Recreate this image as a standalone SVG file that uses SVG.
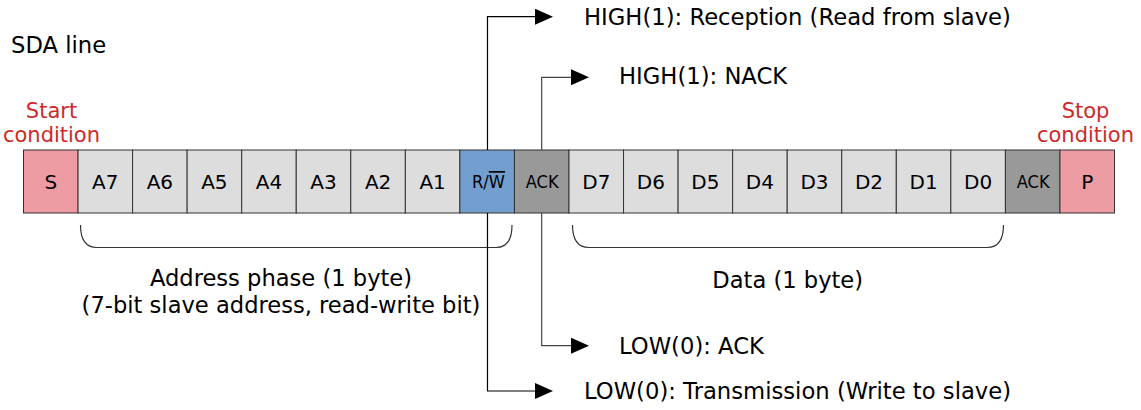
<svg xmlns="http://www.w3.org/2000/svg" width="1141" height="410" viewBox="0 0 1141 410">
<defs>
<style>
text{font-family:"DejaVu Sans","Noto Sans",sans-serif;fill:#000}
.lbl{font-size:22.7px}
.c{font-size:20px;text-anchor:middle}
.big{font-size:22.6px;text-anchor:middle}
.sm{font-size:17px;text-anchor:middle}
.red{fill:#cc2a2a;font-size:21px;text-anchor:middle}
.cell{stroke:#333;stroke-width:1}
.bit{fill:#dddddd}
.se{fill:#ee9ca3}
.rw{fill:#729fcf}
.ack{fill:#999999}
.con{fill:none;stroke:#000;stroke-width:1.2}
.con2{fill:none;stroke:#444;stroke-width:1.2}
.brace{fill:none;stroke:#333;stroke-width:1.2}
</style>
<marker id="arr" markerUnits="userSpaceOnUse" markerWidth="18" markerHeight="16" refX="0" refY="8" orient="auto">
<path d="M0,0 L18,8 L0,16 z" fill="#000"/>
</marker>
</defs>
<rect width="1141" height="410" fill="#fff"/>
<text class="lbl" x="11" y="52.5">SDA line</text>
<g id="start-label"><text class="red" x="51.5" y="117.5">Start</text><text class="red" x="51.5" y="141.5">condition</text></g>
<g id="stop-label"><text class="red" x="1085.5" y="118">Stop</text><text class="red" x="1085.5" y="142">condition</text></g>

<g id="cells">
<g id="S"><rect class="cell se" x="23.5" y="150" width="54.55" height="63"/><text class="c" x="50.8" y="189">S</text></g>
<g id="A7"><rect class="cell bit" x="78.05" y="150" width="54.55" height="63"/><text class="c" x="105.3" y="189">A7</text></g>
<g id="A6"><rect class="cell bit" x="132.6" y="150" width="54.55" height="63"/><text class="c" x="159.9" y="189">A6</text></g>
<g id="A5"><rect class="cell bit" x="187.15" y="150" width="54.55" height="63"/><text class="c" x="214.4" y="189">A5</text></g>
<g id="A4"><rect class="cell bit" x="241.7" y="150" width="54.55" height="63"/><text class="c" x="269" y="189">A4</text></g>
<g id="A3"><rect class="cell bit" x="296.25" y="150" width="54.55" height="63"/><text class="c" x="323.5" y="189">A3</text></g>
<g id="A2"><rect class="cell bit" x="350.8" y="150" width="54.55" height="63"/><text class="c" x="378.1" y="189">A2</text></g>
<g id="A1"><rect class="cell bit" x="405.35" y="150" width="54.55" height="63"/><text class="c" x="432.6" y="189">A1</text></g>
<g id="RW"><rect class="cell rw" x="459.9" y="150" width="54.55" height="63"/><text class="sm" x="488.5" y="188" textLength="33" lengthAdjust="spacingAndGlyphs">R/<tspan text-decoration="overline">W</tspan></text></g>
<g id="ACK1"><rect class="cell ack" x="514.45" y="150" width="54.55" height="63"/><text class="sm" x="542.2" y="188" textLength="33" lengthAdjust="spacingAndGlyphs">ACK</text></g>
<g id="D7"><rect class="cell bit" x="569" y="150" width="54.55" height="63"/><text class="c" x="596.3" y="189">D7</text></g>
<g id="D6"><rect class="cell bit" x="623.55" y="150" width="54.55" height="63"/><text class="c" x="650.8" y="189">D6</text></g>
<g id="D5"><rect class="cell bit" x="678.1" y="150" width="54.55" height="63"/><text class="c" x="705.4" y="189">D5</text></g>
<g id="D4"><rect class="cell bit" x="732.65" y="150" width="54.55" height="63"/><text class="c" x="759.9" y="189">D4</text></g>
<g id="D3"><rect class="cell bit" x="787.2" y="150" width="54.55" height="63"/><text class="c" x="814.5" y="189">D3</text></g>
<g id="D2"><rect class="cell bit" x="841.75" y="150" width="54.55" height="63"/><text class="c" x="869" y="189">D2</text></g>
<g id="D1"><rect class="cell bit" x="896.3" y="150" width="54.55" height="63"/><text class="c" x="923.6" y="189">D1</text></g>
<g id="D0"><rect class="cell bit" x="950.85" y="150" width="54.55" height="63"/><text class="c" x="978.1" y="189">D0</text></g>
<g id="ACK2"><rect class="cell ack" x="1005.4" y="150" width="54.55" height="63"/><text class="sm" x="1033.2" y="188" textLength="33" lengthAdjust="spacingAndGlyphs">ACK</text></g>
<g id="P"><rect class="cell se" x="1059.95" y="150" width="54.55" height="63"/><text class="c" x="1087.2" y="189">P</text></g>
</g>

<g id="braces">
<path class="brace" d="M80.5,225 C80.5,240 86,247.5 97,247.5 H496 C507,247.5 512,240 512,225"/>
<path class="brace" d="M572.5,225 C572.5,240 578,247.5 589,247.5 H987 C998,247.5 1003.5,240 1003.5,225"/>
<text class="big" x="281" y="286">Address phase (1 byte)</text>
<text class="big" x="281" y="312.5">(7-bit slave address, read-write bit)</text>
<text class="big" x="787.7" y="288">Data (1 byte)</text>
</g>

<g id="connectors">
<path class="con" d="M487.5,150 V16.7 H535" marker-end="url(#arr)"/>
<path class="con" d="M487.5,213 V391 H535" marker-end="url(#arr)"/>
<path class="con2" d="M541.7,150 V77.3 H571" marker-end="url(#arr)"/>
<path class="con2" d="M541.7,213 V345.7 H571" marker-end="url(#arr)"/>
</g>
<g id="out-labels">
<text class="lbl" x="584" y="25">HIGH(1): Reception (Read from slave)</text>
<text class="lbl" x="619" y="84">HIGH(1): NACK</text>
<text class="lbl" x="619" y="354">LOW(0): ACK</text>
<text class="lbl" x="584" y="399">LOW(0): Transmission (Write to slave)</text>
</g>
</svg>
